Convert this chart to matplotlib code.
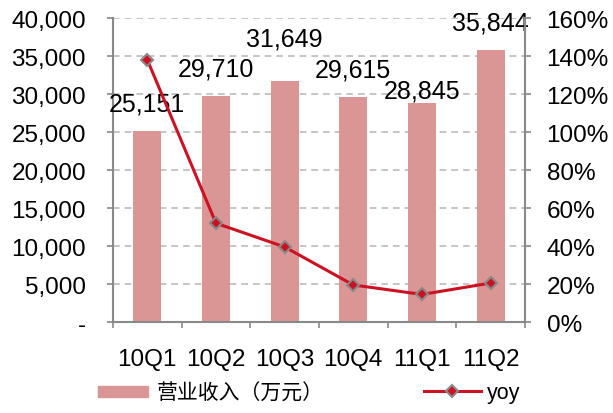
import matplotlib.pyplot as plt
from matplotlib.ticker import FuncFormatter, FixedLocator
from matplotlib.lines import Line2D
from matplotlib.patches import Patch

plt.rcParams['font.family'] = ['Liberation Sans', 'Noto Sans CJK SC', 'DejaVu Sans']

quarters = ['10Q1', '10Q2', '10Q3', '10Q4', '11Q1', '11Q2']
revenue = [25151, 29710, 31649, 29615, 28845, 35844]
yoy = [138, 52, 39.5, 19.5, 14.5, 20.5]
# label offsets above bars (points), nudged like the original
label_offset = [11, 11, 22, 11, 0.5, 11]

bar_color = '#D99694'
line_color = '#CC1122'
axis_color = '#898989'

fig = plt.figure(figsize=(6.13, 4.14), dpi=100)
ax = fig.add_axes([0.1843, 0.2198, 0.6721, 0.7343])
ax2 = ax.twinx()

x = list(range(len(quarters)))
ax.bar(x, revenue, width=0.41, color=bar_color, zorder=2)
for xi, v, off in zip(x, revenue, label_offset):
    ax.annotate('{:,}'.format(v), (xi, v), xytext=(0, off), textcoords='offset points',
                ha='center', va='bottom', fontsize=18)

ax2.plot(x, yoy, color=line_color, lw=2.2, marker='D', markersize=6.5,
         markerfacecolor=line_color, markeredgecolor=axis_color, markeredgewidth=1.5, zorder=3)

ax.set_xlim(-0.5, 5.5)
ax.set_ylim(0, 40000)
ax2.set_ylim(0, 160)
ax.set_yticks(range(0, 40001, 5000))
ax.yaxis.set_major_formatter(FuncFormatter(lambda v, p: '-' if v == 0 else '{:,}'.format(int(v))))
ax2.set_yticks(range(0, 161, 20))
ax2.yaxis.set_major_formatter(FuncFormatter(lambda v, p: '{}%'.format(int(v))))

ax.set_xticks(x)
ax.set_xticklabels(quarters)
ax.xaxis.set_minor_locator(FixedLocator([i - 0.5 for i in range(7)]))
ax.tick_params(axis='x', which='major', length=0, pad=19, labelsize=17.5)
ax.tick_params(axis='x', which='minor', length=4.5, color=axis_color, width=1.2, direction='out')
ax.tick_params(axis='y', length=4.5, color=axis_color, width=1.2, labelsize=17.5, pad=15)
ax2.tick_params(axis='y', length=4.5, color=axis_color, width=1.2, labelsize=17.5, pad=11)

ax.grid(axis='y', color='#BBBBBB', linestyle=(0, (4, 3)), lw=1.2, zorder=0)
ax.set_axisbelow(True)
for a in (ax, ax2):
    a.spines['top'].set_visible(False)
    for s in ('left', 'right', 'bottom'):
        a.spines[s].set_color(axis_color)
        a.spines[s].set_linewidth(1.5)
ax.spines['right'].set_visible(False)
ax2.spines['left'].set_visible(False)
ax2.spines['bottom'].set_visible(False)

h1 = Patch(color=bar_color)
h2 = Line2D([], [], color=line_color, lw=2.2, marker='D', markersize=6.5,
            markerfacecolor=line_color, markeredgecolor=axis_color, markeredgewidth=1.5)
fig.legend([h1], ['营业收入（万元）'], loc='center left', bbox_to_anchor=(98 / 613, 20 / 414),
           frameon=False, handlelength=2.4, handleheight=0.48, handletextpad=0.43,
           borderpad=0, borderaxespad=0,
           prop={'family': ['Noto Sans CJK SC'], 'size': 15})
fig.legend([h2], ['yoy'], loc='center left', bbox_to_anchor=(424 / 613, 20 / 414),
           frameon=False, handlelength=2.64, handletextpad=0.3, borderpad=0, borderaxespad=0,
           fontsize=15.5)

fig.savefig('out.png', dpi=100)
